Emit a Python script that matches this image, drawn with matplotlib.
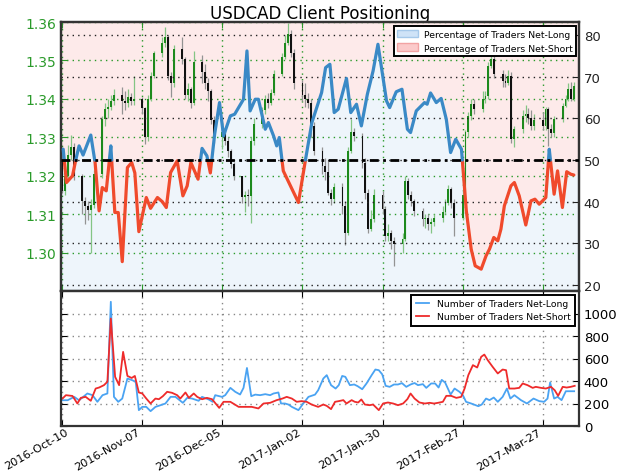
import numpy as np
import pandas as pd
import matplotlib
matplotlib.use("Agg")
import matplotlib.pyplot as plt
import matplotlib.dates as mdates
import matplotlib.transforms as mtransforms
from matplotlib.patches import Patch

START = pd.Timestamp("2016-10-10")

# ---------------- price candles (weekdays) ----------------
candle_dates = pd.bdate_range("2016-10-10", "2017-04-07")
first_open = 1.3240
close = [1.3160, 1.3200, 1.3255, 1.3275, 1.3200,
         1.3135, 1.3120, 1.3110, 1.3125, 1.3205,
         1.3347, 1.3373, 1.3380, 1.3395, 1.3410,
         1.3395, 1.3390, 1.3405, 1.3395, 1.3400,
         1.3375, 1.3300, 1.3400, 1.3460, 1.3520,
         1.3545, 1.3560, 1.3460, 1.3440, 1.3530,
         1.3505, 1.3410, 1.3425, 1.3390, 1.3495,
         1.3470, 1.3440, 1.3420, 1.3345, 1.3300,
         1.3315, 1.3290, 1.3265, 1.3230, 1.3200,
         1.3145, 1.3150, 1.3148, 1.3290, 1.3335,
         1.3370, 1.3400, 1.3390, 1.3415, 1.3465,
         1.3510, 1.3545, 1.3570, 1.3520, 1.3440,
         1.3410, 1.3400, 1.3390, 1.3330, 1.3265,
         1.3225, 1.3210, 1.3156, 1.3140, 1.3170,
         1.3120, 1.3050, 1.3265, 1.3313, 1.3304,
         1.3234, 1.3156, 1.3061, 1.3087, 1.3150,
         1.3113, 1.3044, 1.3050, 1.3030, 1.3022,
         1.3035, 1.3187, 1.3150, 1.3135, 1.3109,
         1.3087, 1.3090, 1.3075, 1.3080, 1.3090,
         1.3105, 1.3130, 1.3165, 1.3130, 1.3090,
         1.3150, 1.3313, 1.3356, 1.3386, 1.3373,
         1.3400, 1.3408, 1.3486, 1.3504, 1.3465,
         1.3447, 1.3440, 1.3460, 1.3295, 1.3321,
         1.3356, 1.3360, 1.3350, 1.3330, 1.3345,
         1.3330, 1.3373, 1.3321, 1.3310, 1.3347,
         1.3382, 1.3400, 1.3425, 1.3400, 1.3434]
high = [1.3275, 1.3225, 1.3280, 1.3305, 1.3285,
        1.3205, 1.3145, 1.3135, 1.3140, 1.3215,
        1.3355, 1.3390, 1.3400, 1.3410, 1.3425,
        1.3432, 1.3420, 1.3425, 1.3415, 1.3460,
        1.3405, 1.3380, 1.3410, 1.3470, 1.3525,
        1.3560, 1.3588, 1.3565, 1.3470, 1.3540,
        1.3560, 1.3510, 1.3440, 1.3430, 1.3525,
        1.3515, 1.3490, 1.3455, 1.3425, 1.3355,
        1.3340, 1.3325, 1.3300, 1.3270, 1.3235,
        1.3200, 1.3160, 1.3165, 1.3300, 1.3350,
        1.3378, 1.3410, 1.3415, 1.3425, 1.3475,
        1.3520, 1.3565, 1.3598, 1.3580, 1.3530,
        1.3450, 1.3440, 1.3415, 1.3400, 1.3340,
        1.3275, 1.3245, 1.3240, 1.3165, 1.3180,
        1.3180, 1.3135, 1.3275, 1.3347, 1.3325,
        1.3310, 1.3245, 1.3165, 1.3110, 1.3165,
        1.3160, 1.3120, 1.3075, 1.3060, 1.3040,
        1.3050, 1.3200, 1.3195, 1.3160, 1.3140,
        1.3115, 1.3100, 1.3100, 1.3090, 1.3100,
        1.3120, 1.3140, 1.3175, 1.3170, 1.3140,
        1.3165, 1.3320, 1.3365, 1.3400, 1.3400,
        1.3420, 1.3420, 1.3495, 1.3521, 1.3515,
        1.3475, 1.3465, 1.3475, 1.3470, 1.3330,
        1.3370, 1.3385, 1.3375, 1.3370, 1.3360,
        1.3365, 1.3380, 1.3380, 1.3335, 1.3355,
        1.3390, 1.3410, 1.3440, 1.3445, 1.3445]
low = [1.3155, 1.3150, 1.3195, 1.3240, 1.3190,
       1.3100, 1.3075, 1.3085, 1.3000, 1.3115,
       1.3195, 1.3330, 1.3350, 1.3370, 1.3385,
       1.3360, 1.3370, 1.3380, 1.3385, 1.3385,
       1.3360, 1.3282, 1.3290, 1.3395, 1.3455,
       1.3510, 1.3535, 1.3450, 1.3405, 1.3430,
       1.3490, 1.3400, 1.3395, 1.3375, 1.3385,
       1.3440, 1.3425, 1.3395, 1.3335, 1.3285,
       1.3270, 1.3280, 1.3250, 1.3220, 1.3190,
       1.3130, 1.3105, 1.3120, 1.3078, 1.3280,
       1.3325, 1.3360, 1.3375, 1.3385, 1.3410,
       1.3460, 1.3505, 1.3540, 1.3510, 1.3425,
       1.3395, 1.3380, 1.3375, 1.3300, 1.3255,
       1.3205, 1.3190, 1.3150, 1.3125, 1.3130,
       1.3100, 1.3020, 1.3045, 1.3260, 1.3290,
       1.3220, 1.3140, 1.3050, 1.3055, 1.3080,
       1.3100, 1.3030, 1.3030, 1.3010, 1.2965,
       1.3000, 1.3030, 1.3140, 1.3120, 1.3095,
       1.3070, 1.3065, 1.3060, 1.3050, 1.3070,
       1.3080, 1.3100, 1.3125, 1.3115, 1.3044,
       1.3085, 1.3140, 1.3300, 1.3345, 1.3360,
       1.3365, 1.3390, 1.3400, 1.3480, 1.3455,
       1.3430, 1.3430, 1.3435, 1.3285, 1.3275,
       1.3310, 1.3340, 1.3335, 1.3320, 1.3320,
       1.3320, 1.3320, 1.3278, 1.3300, 1.3300,
       1.3340, 1.3380, 1.3395, 1.3395, 1.3395]

# ---------------- client positioning (days since 2016-10-10) ----------------
pct_day = [0.35, 1.5, 3.6, 4.8, 5.9, 7.3, 10, 11.5, 12.9, 14, 15.4, 17, 18.4, 19.6, 21,
           22.8, 24.3, 25.4, 26.8, 28, 29.4, 30.9, 33.3, 35, 36.4, 37.9, 40.2, 42.2, 43.7,
           45, 47.5, 48.9, 50.6, 51.8, 53.3, 55, 56.4, 58.8, 60.3, 63.4, 64.6, 65.7, 67.5,
           68.6, 71, 72.1, 73.9, 75, 75.9, 77.3, 82.6, 85.1, 87.3, 90.7, 92.1, 93.6, 95.1,
           96.5, 99.4, 100.9, 102.9, 104.6, 106.7, 108.7, 110.4, 113.4, 114.5, 116.8, 118.8,
           120.7, 121.8, 123.8, 126.7, 127.6, 128.8, 130.8, 132.5, 134.3, 135.8, 137.6, 139.6,
           141.3, 143, 144.4, 146.5, 148.2, 149.4, 150.9, 152.3, 153.4, 154.6, 156.9, 158.1,
           159.8, 162.1, 163.9, 165.3, 166.8, 169.1, 170.3, 172, 173.2, 174.9, 176.4, 177.8,
           178.9]
pct_long = [52.6, 44.6, 46.2, 50.2, 53.4, 51.2, 56, 49.4, 37.8, 43.4, 42.6, 53.4, 37.4, 37.4,
            25.6, 48.2, 49.4, 46.9, 32.8, 36.6, 41, 38.4, 41, 40, 38.6, 47, 49.8, 41.4, 43.8,
            49.4, 45.4, 52.8, 51, 46.9, 56.2, 63.8, 55.8, 60.6, 61, 64.6, 76.2, 61.8, 64.6,
            64.6, 57.4, 59, 55.8, 53.4, 55.4, 47.4, 39.8, 50.2, 59, 66.2, 72.2, 73, 61.4,
            62.2, 69.6, 61.4, 63.4, 58.2, 65.8, 71.4, 77.8, 64.2, 62.6, 66.4, 67,
            57.4, 56.6, 61.8, 63.8, 63.4, 66.1, 63.8, 64.8, 59.8, 51.8, 55, 52.6,
            37.8, 28.6, 24.6, 23.8, 27, 28.6, 31.4, 30.6, 33.4, 39, 43.8, 44.6,
            41.4, 34.4, 40.2, 40.6, 39.4, 41, 52.6, 41.8, 47.4, 38.6, 47.2, 46.6,
            46.4]

long_day = [0.1, 1.9, 4.2, 5.9, 8.8, 10.6, 12.3, 14.1, 15.8, 17.0, 18.1, 19.6, 21.0, 22.8,
            24.5, 25.7, 26.8, 28.0, 29.4, 30.9, 32.6, 34.4, 36.1, 37.9, 39.6, 42.2, 43.7,
            45.4, 47.7, 48.9, 51.2, 52.6, 53.5, 55.9, 57.0, 58.8, 60.5, 62.2, 63.4, 64.6,
            66.1, 67.5, 69.2, 71.0, 72.7, 73.9, 75.6, 76.5, 77.9, 79.1, 80.3, 82.6, 84.3,
            86.1, 88.4, 89.5, 91.3, 92.5, 94.0, 95.6, 96.7, 97.9, 99.0, 100.6, 102.1, 103.3,
            104.9, 106.4, 108.2, 109.5, 110.7, 111.9, 113.1, 114.5, 116.0, 117.4, 118.8,
            120.3, 121.8, 123.2, 124.4, 126.1, 127.3, 129.0, 130.4, 131.6, 132.7, 133.9,
            135.8, 137.2, 138.9, 140.1, 141.2, 143.0, 145.5, 146.7, 148.2, 149.4, 150.9,
            152.3, 154.0, 155.5, 156.7, 158.1, 160.4, 162.5, 164.8, 166.8, 168.5, 169.7,
            170.6, 172.0, 173.2, 174.6, 176.1, 179.0]
long_cnt = [229, 229, 259, 229, 289, 274, 215, 274, 289, 1104, 259, 215, 244, 422,
            407, 393, 141, 170, 170, 132, 170, 185, 200, 259, 259, 206, 250,
            244, 224, 259, 236, 215, 274, 259, 274, 339, 304, 280, 339, 516,
            265, 279, 274, 283, 274, 289, 298, 200, 200, 191, 170, 141, 200,
            259, 279, 318, 422, 452, 363, 333, 363, 445, 437, 363, 369, 354,
            327, 378, 452, 502, 496, 459, 357, 348, 369, 369, 381,
            348, 369, 382, 363, 372, 339, 378, 378, 342, 410, 386,
            280, 333, 304, 274, 215, 200, 176, 191, 244, 230, 253,
            215, 259, 333, 244, 274, 230, 200, 244, 221, 215, 244,
            387, 244, 259, 230, 309, 309]

short_day = [0.1, 1.3, 3.6, 5.3, 6.5, 8.2, 10.0, 11.7, 12.9, 14.6, 15.8, 17.0, 18.5, 19.9,
             21.3, 22.8, 24.3, 25.4, 26.8, 28.0, 29.4, 30.9, 32.6, 33.8, 35.2, 36.7, 38.4,
             40.2, 41.3, 43.1, 44.3, 46.0, 47.2, 48.9, 50.6, 52.4, 54.9, 56.4, 58.8, 61.7,
             64.6, 66.3, 68.6, 70.4, 72.7, 75.0, 77.0, 78.5, 80.3, 82.0, 83.7, 85.5, 87.2,
             89.5, 91.3, 92.5, 94.0, 95.4, 96.7, 98.3, 99.4, 101.2, 102.3, 103.5, 104.6,
             105.8, 107.5, 108.7, 110.7, 112.2, 113.9, 115.7, 117.4, 119.2, 120.7, 121.8,
             123.2, 124.9, 126.8, 128.5, 130.0, 131.4, 133.1, 134.3, 136.0, 137.8, 139.5,
             140.7, 142.0, 143.6, 145.1, 146.5, 147.6, 148.8, 150.5, 152.3, 154.0, 155.2,
             156.3, 158.1, 159.8, 161.0, 162.7, 164.5, 165.6, 167.4, 169.1, 170.9, 172.2,
             173.4, 175.0, 176.4, 177.8, 179.2]
short_cnt = [244, 274, 267, 200, 250, 259, 224, 333, 342, 363, 393, 955, 437, 363,
             659, 445, 427, 445, 298, 289, 244, 200, 244, 238, 265, 304, 295,
             274, 244, 298, 250, 289, 259, 238, 250, 238, 161, 215, 215, 170,
             170, 170, 156, 200, 206, 230, 244, 259, 244, 215, 221, 215, 191,
             170, 191, 179, 150, 215, 221, 230, 200, 230, 215, 209, 236,
             191, 185, 191, 141, 200, 209, 200, 185, 200, 239, 289,
             244, 209, 200, 206, 200, 206, 215, 268, 268, 250, 259,
             333, 452, 541, 520, 615, 635, 585, 526, 467, 502, 496,
             333, 333, 339, 378, 363, 339, 348, 339, 333, 348, 318,
             268, 348, 342, 348, 357]

tick_dates = ["2016-10-10", "2016-11-07", "2016-12-05", "2017-01-02",
              "2017-01-30", "2017-02-27", "2017-03-27"]
price_ticks = [1.30, 1.31, 1.32, 1.33, 1.34, 1.35, 1.36]
pct_ticks = [20, 30, 40, 50, 60, 70, 80]
count_ticks = [0, 200, 400, 600, 800, 1000]

# ---------------- helpers ----------------
base = mdates.date2num(START.to_pydatetime())


def days_to_num(days):
    return base + np.asarray(days, dtype=float)


def split_at(xs, ys, level):
    X, Y = [xs[0]], [ys[0]]
    for i in range(1, len(xs)):
        y0, y1 = ys[i - 1], ys[i]
        if (y0 - level) * (y1 - level) < 0:
            t = (level - y0) / (y1 - y0)
            X.append(xs[i - 1] + t * (xs[i] - xs[i - 1]))
            Y.append(level)
        X.append(xs[i])
        Y.append(ys[i])
    return np.array(X), np.array(Y)


GREEN = "#2a9a2a"
SPINE = "#333333"
xlo = base - 0.42
xhi = base + 180.7

fig = plt.figure(figsize=(6.24, 4.77), dpi=100)
ax = fig.add_axes([61 / 624, 1 - 292 / 477, 518 / 624, 269 / 477])
axb = fig.add_axes([61 / 624, 1 - 427 / 477, 518 / 624, 135 / 477], sharex=ax)
ax2 = ax.twinx()

# ---- fills (pct scale) drawn behind the candles ----
px, py = split_at(days_to_num(pct_day), np.array(pct_long, dtype=float), 50.0)
fx = np.concatenate([[xlo], px, [xhi]])
fy = np.concatenate([[py[0]], py, [py[-1]]])
ax.fill_between(fx, fy, 100, transform=ax2.transData, color="#fdeaea", lw=0, zorder=0)
ax.fill_between(fx, 0, fy, transform=ax2.transData, color="#eef5fb", lw=0, zorder=0)

# ---- grids ----
for p in price_ticks:
    ax.axhline(p, color=GREEN, ls=(0, (1, 3)), lw=1.0, zorder=1)
for t in tick_dates:
    ax.axvline(mdates.date2num(pd.Timestamp(t)), color=GREEN, ls=(0, (1, 3)), lw=1.0, zorder=1)
for p in pct_ticks:
    ax2.axhline(p, color="#222222", ls=(0, (1, 3)), lw=1.0, zorder=1)

# ---- candles ----
cx = mdates.date2num(candle_dates.to_pydatetime())
c = np.array(close)
o = np.concatenate([[first_open], c[:-1]])
h = np.maximum(np.array(high), np.maximum(o, c))
l = np.minimum(np.array(low), np.minimum(o, c))
up = c >= o
ax.vlines(cx[up], l[up], h[up], color="#84c584", lw=0.9, zorder=2)
ax.vlines(cx[~up], l[~up], h[~up], color="#939393", lw=0.9, zorder=2)
body_h = np.maximum(np.abs(c - o), 0.00025)
ax.bar(cx[up], body_h[up], bottom=np.minimum(o, c)[up], width=0.65, color="#1d8a1d", lw=0, zorder=3)
ax.bar(cx[~up], body_h[~up], bottom=np.minimum(o, c)[~up], width=0.65, color="#111111", lw=0, zorder=3)

# ---- positioning line ----
blue_y = np.where(py >= 50, py, np.nan)
red_y = np.where(py <= 50, py, np.nan)
ax2.plot(px, red_y, color="#f04a2c", lw=2.3, solid_capstyle="round", solid_joinstyle="round", zorder=4)
ax2.plot(px, blue_y, color="#3a89c6", lw=2.3, solid_capstyle="round", solid_joinstyle="round", zorder=4)
ax2.axhline(50, color="black", lw=2.0, ls=(0, (3.2, 1.6, 1.0, 1.6)), zorder=5)

# ---- axes setup top ----
ax.set_xlim(xlo, xhi)
ax.set_ylim(1.29, 1.36)
ax2.set_ylim(18.55, 83.15)
ax.set_yticks(price_ticks)
ax.set_yticklabels([f"{p:.2f}" for p in price_ticks])
ax.tick_params(axis="y", colors=GREEN, labelsize=10, direction="in", length=4)
ax.tick_params(axis="x", colors=GREEN, direction="in", length=4, labelbottom=False, top=True)
ax2.set_yticks(pct_ticks)
ax2.tick_params(axis="y", colors="#222222", labelsize=9.5, direction="in", length=4)
for a in (ax, ax2):
    for s in a.spines.values():
        s.set_color(SPINE)
        s.set_linewidth(1.6)

ax.set_xticks([mdates.date2num(pd.Timestamp(t)) for t in tick_dates])
ax.set_title("USDCAD Client Positioning", fontsize=12, pad=3)

leg1 = ax2.legend(handles=[Patch(facecolor="#cfe3f7", edgecolor="#a6c9ea", label="Percentage of Traders Net-Long"),
                           Patch(facecolor="#fbcaca", edgecolor="#f2a3a3", label="Percentage of Traders Net-Short")],
                  loc="upper right", bbox_to_anchor=(0.9942, 0.985), borderaxespad=0, fontsize=6.7,
                  fancybox=False, framealpha=1, edgecolor="black", handlelength=2.2, handleheight=0.9,
                  handletextpad=0.6, borderpad=0.4, labelspacing=0.5)
leg1.get_frame().set_linewidth(1.4)

# ---- bottom panel ----
axb.plot(days_to_num(long_day), long_cnt, color="#4aa3f2", lw=1.3, label="Number of Traders Net-Long")
axb.plot(days_to_num(short_day), short_cnt, color="#ee2b2b", lw=1.3, label="Number of Traders Net-Short")
axb.set_ylim(0, 1200)
axb.set_yticks(count_ticks)
axb.tick_params(axis="y", left=True, right=True, labelleft=False, labelright=True,
                labelsize=9.5, direction="in", length=4)
axb.tick_params(axis="x", direction="in", length=4, labelsize=8.2, top=True, pad=0.5)
for v in count_ticks[1:]:
    axb.axhline(v, color="#888888", ls=(0, (1, 3)), lw=1.0, zorder=0)
for t in tick_dates:
    axb.axvline(mdates.date2num(pd.Timestamp(t)), color="#888888", ls=(0, (1, 3)), lw=1.0, zorder=0)
axb.xaxis.set_major_formatter(mdates.DateFormatter("%Y-%b-%d"))
for s in axb.spines.values():
    s.set_color(SPINE)
    s.set_linewidth(1.6)
ax.set_xlim(xlo, xhi)

labels = axb.get_xticklabels()
for i, lbl in enumerate(labels):
    lbl.set_rotation(30)
    lbl.set_ha("right")
    if i == 0:
        lbl.set_transform(lbl.get_transform() +
                          mtransforms.ScaledTranslation(8 / 100, 0, fig.dpi_scale_trans))

leg2 = axb.legend(loc="upper right", bbox_to_anchor=(0.9923, 0.970), borderaxespad=0, fontsize=6.7,
                  fancybox=False, framealpha=1, edgecolor="black", handlelength=1.4,
                  handletextpad=0.9, borderpad=0.45, labelspacing=0.45)
leg2.get_frame().set_linewidth(1.4)

fig.savefig("out.png", dpi=100)
